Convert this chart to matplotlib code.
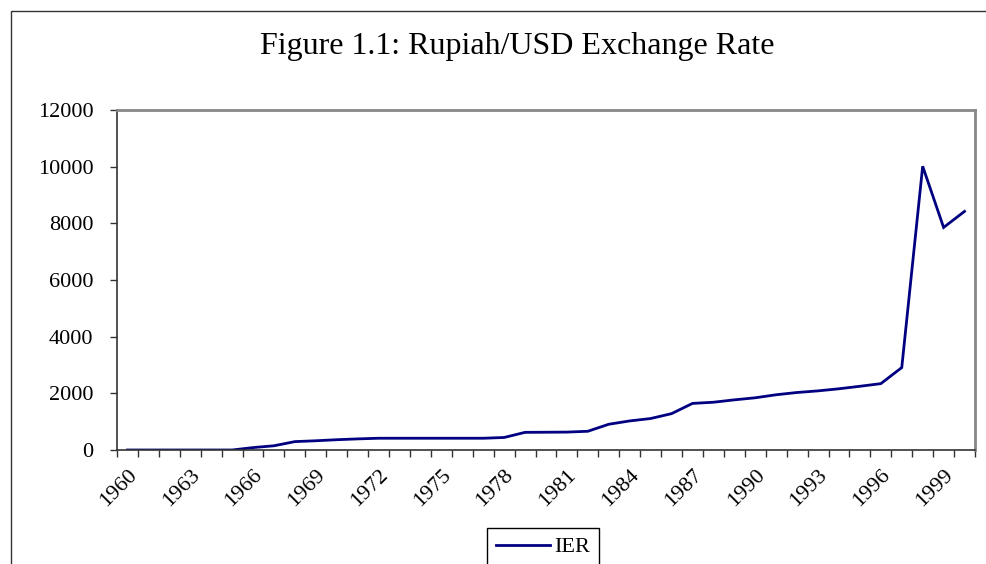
import numpy as np
import matplotlib
matplotlib.use('Agg')
import matplotlib.pyplot as plt
from matplotlib.patches import Rectangle

plt.rcParams['font.family'] = ['Liberation Serif', 'DejaVu Serif']

# data
years = list(range(1960, 2001))
ier = [0.05, 0.05, 0.05, 0.05, 0.25, 0.3, 85, 149, 296, 326,
       363, 392, 415, 415, 415, 415, 415, 415, 442, 623,
       627, 632, 661, 909, 1026, 1111, 1283, 1644, 1686, 1770,
       1843, 1950, 2030, 2087, 2161, 2249, 2342, 2909, 10014, 7855,
       8422]
label_years = years[::3]

fig = plt.figure(figsize=(9.87, 5.64), dpi=100)
ax = fig.add_axes([117/987, 1 - 450/564, (975 - 117)/987, (450 - 110)/564])

x = np.arange(len(years))
ax.plot(x, ier, color='#000080', linewidth=2.0, label='IER', solid_joinstyle='miter')

ax.set_xlim(-0.5, len(years) - 0.5)
ax.set_ylim(0, 12000)
ax.set_yticks(np.arange(0, 12001, 2000))

# excel style: ticks between categories, labels on every 3rd category
ax.set_xticks(np.arange(len(years) + 1) - 0.5, minor=True)
ax.set_xticks([years.index(y) for y in label_years])
ax.set_xticklabels([str(y) for y in label_years], rotation=45, ha='right', rotation_mode='anchor')
ax.tick_params(axis='x', which='major', length=0, pad=11, labelsize=16)
ax.tick_params(axis='x', which='minor', length=5, width=1, direction='out', color='#333333')
ax.tick_params(axis='y', length=5, width=1, direction='out', pad=12, labelsize=16, color='#333333')

for s in ['top', 'right']:
    ax.spines[s].set_color('#888888')
    ax.spines[s].set_linewidth(2)
for s in ['left', 'bottom']:
    ax.spines[s].set_color('#333333')
    ax.spines[s].set_linewidth(1.2)

fig.text(0.524, 0.917, 'Figure 1.1: Rupiah/USD Exchange Rate', ha='center', va='center', fontsize=23)

leg = fig.legend(loc='upper center', bbox_to_anchor=(543/987, 1 - 528/564), fontsize=16,
                 fancybox=False, edgecolor='black', handlelength=2.4, handletextpad=0.2,
                 borderpad=0.4, borderaxespad=0, framealpha=1)
leg.get_frame().set_linewidth(1)

# outer chart border (cut off on right and bottom)
fig.patches.append(Rectangle((11/987, -0.2), 1.2, 1.2 - 11/564, transform=fig.transFigure,
                             fill=False, edgecolor='#333333', linewidth=1))

fig.savefig('out.png', dpi=100)
